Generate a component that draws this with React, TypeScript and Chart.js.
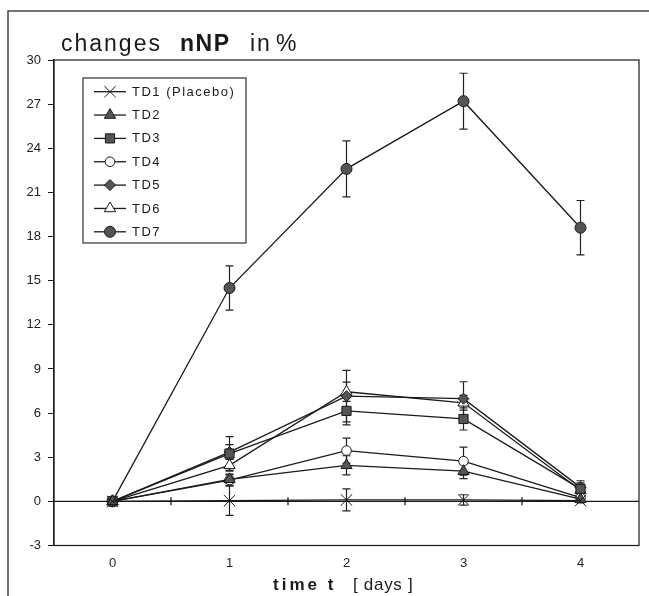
import React, { useEffect, useRef } from 'react';
import { Chart, registerables } from 'chart.js';

Chart.register(...registerables);

// ---------- data ----------
const days = [0, 1, 2, 3, 4];
const xTickValues = [0, 1, 2, 3, 4];
const yTickValues = [-3, 0, 3, 6, 9, 12, 15, 18, 21, 24, 27, 30];
const zeroLineTicks = [0.5, 1.5, 2.5, 3.5];
const seriesNames = ['TD1 (Placebo)', 'TD2', 'TD3', 'TD4', 'TD5', 'TD6', 'TD7'];

const td1 = [0, 0.05, 0.1, 0.1, 0.05];
const td1Err = [0, 1.0, 0.75, 0.35, 0.15];
const td2 = [0, 1.5, 2.45, 2.05, 0.15];
const td2Err = [0, 0.3, 0.65, 0.5, 0.15];
const td3 = [0, 3.25, 6.15, 5.6, 0.85];
const td3Err = [0, 1.15, 0.95, 0.75, 0.55];
const td4 = [0, 1.45, 3.45, 2.73, 0.25];
const td4Err = [0, 0.4, 0.85, 0.95, 0.2];
const td5 = [0, 3.35, 7.15, 6.98, 0.95];
const td5Err = [0, 0.5, 1.75, 1.15, 0.3];
const td6 = [0, 2.45, 7.45, 6.7, 0.75];
const td6Err = [0, 0.4, 0.65, 0.5, 0.2];
const td7 = [0, 14.5, 22.6, 27.2, 18.6];
const td7Err = [0, 1.5, 1.9, 1.9, 1.85];

const seriesValues = [td1, td2, td3, td4, td5, td6, td7];
const seriesErrors = [td1Err, td2Err, td3Err, td4Err, td5Err, td6Err, td7Err];

// ---------- styles ----------
const markerStyles = ['crossRot', 'triangle', 'rect', 'circle', 'rectRot', 'triangle', 'circle'];
const markerRadii = [8, 6.5, 6.5, 4.8, 5.5, 6.5, 5.5];
const markerFills = ['#111', '#555', '#555', '#fff', '#555', '#fff', '#555'];
const INK = '#1a1a1a';
const FONT = '"Liberation Sans", Arial, Helvetica, sans-serif';

function drawMarker(ctx: CanvasRenderingContext2D, style: string, x: number, y: number, r: number, fill: string) {
  ctx.beginPath();
  if (style === 'circle') {
    ctx.arc(x, y, r, 0, Math.PI * 2);
  } else if (style === 'rect') {
    const s = Math.SQRT1_2 * r;
    ctx.rect(x - s, y - s, 2 * s, 2 * s);
  } else if (style === 'rectRot') {
    ctx.moveTo(x - r, y);
    ctx.lineTo(x, y - r);
    ctx.lineTo(x + r, y);
    ctx.lineTo(x, y + r);
    ctx.closePath();
  } else if (style === 'triangle') {
    let rad = 0;
    ctx.moveTo(x + Math.sin(rad) * r, y - Math.cos(rad) * r);
    rad += (2 * Math.PI) / 3;
    ctx.lineTo(x + Math.sin(rad) * r, y - Math.cos(rad) * r);
    rad += (2 * Math.PI) / 3;
    ctx.lineTo(x + Math.sin(rad) * r, y - Math.cos(rad) * r);
    ctx.closePath();
  } else if (style === 'crossRot') {
    const o = Math.cos(Math.PI / 4) * r;
    ctx.moveTo(x - o, y - o);
    ctx.lineTo(x + o, y + o);
    ctx.moveTo(x + o, y - o);
    ctx.lineTo(x - o, y + o);
    ctx.stroke();
    return;
  }
  ctx.fillStyle = fill;
  ctx.fill();
  ctx.stroke();
}

const framePlugin = {
  id: 'frameAndErrors',
  beforeDatasetsDraw(chart: any) {
    const { ctx, chartArea: a, scales } = chart;
    const x = scales.x;
    const y = scales.y;
    ctx.save();
    ctx.strokeStyle = INK;
    ctx.lineWidth = 1.2;
    ctx.strokeRect(a.left, a.top, a.right - a.left, a.bottom - a.top);
    // zero line with half-day ticks
    const y0 = y.getPixelForValue(0);
    ctx.lineWidth = 1.3;
    ctx.beginPath();
    ctx.moveTo(a.left, y0);
    ctx.lineTo(a.right, y0);
    zeroLineTicks.forEach((t) => {
      const px = x.getPixelForValue(t);
      ctx.moveTo(px, y0 - 4);
      ctx.lineTo(px, y0 + 4);
    });
    ctx.stroke();
    // error bars
    ctx.lineWidth = 1.2;
    ctx.strokeStyle = '#222';
    seriesValues.forEach((vals, i) => {
      const errs = seriesErrors[i];
      vals.forEach((v, j) => {
        const e = errs[j];
        if (!e) return;
        const px = x.getPixelForValue(days[j]);
        const top = y.getPixelForValue(v + e);
        const bot = y.getPixelForValue(v - e);
        ctx.beginPath();
        ctx.moveTo(px, top);
        ctx.lineTo(px, bot);
        ctx.moveTo(px - 4, top);
        ctx.lineTo(px + 4, top);
        ctx.moveTo(px - 4, bot);
        ctx.lineTo(px + 4, bot);
        ctx.stroke();
      });
    });
    ctx.restore();
  },
};

const decorPlugin = {
  id: 'decor',
  afterDraw(chart: any) {
    const { ctx } = chart;
    ctx.save();
    // outer figure border
    ctx.strokeStyle = '#444';
    ctx.lineWidth = 1.5;
    ctx.beginPath();
    ctx.moveTo(8, 600);
    ctx.lineTo(8, 11);
    ctx.lineTo(649, 11);
    ctx.stroke();

    // title
    ctx.fillStyle = INK;
    ctx.textBaseline = 'alphabetic';
    ctx.textAlign = 'left';
    (ctx as any).letterSpacing = '2px';
    ctx.font = `23px ${FONT}`;
    ctx.fillText('changes', 61, 51);
    (ctx as any).letterSpacing = '1.5px';
    ctx.font = `bold 23px ${FONT}`;
    ctx.fillText('nNP', 180, 51);
    (ctx as any).letterSpacing = '2px';
    ctx.font = `23px ${FONT}`;
    ctx.fillText('in', 250, 51);
    ctx.fillText('%', 276, 51);

    // x axis title
    (ctx as any).letterSpacing = '3px';
    ctx.font = `bold 17px ${FONT}`;
    ctx.fillText('time t', 273, 590);
    (ctx as any).letterSpacing = '0.7px';
    ctx.font = `17px ${FONT}`;
    ctx.fillText('[ days ]', 353, 590);

    // legend
    (ctx as any).letterSpacing = '1.5px';
    ctx.strokeStyle = '#333';
    ctx.lineWidth = 1.2;
    ctx.fillStyle = '#fff';
    ctx.fillRect(83, 78, 163, 165);
    ctx.strokeRect(83, 78, 163, 165);
    seriesNames.forEach((name, i) => {
      const cy = 91.7 + i * 23.35;
      ctx.strokeStyle = INK;
      ctx.lineWidth = 1.3;
      ctx.beginPath();
      ctx.moveTo(94, cy);
      ctx.lineTo(126, cy);
      ctx.stroke();
      ctx.lineWidth = 1;
      drawMarker(ctx, markerStyles[i], 110, cy, markerRadii[i], markerFills[i]);
      ctx.fillStyle = INK;
      ctx.font = `13px ${FONT}`;
      ctx.textBaseline = 'middle';
      ctx.fillText(name, 132, cy + 0.5);
    });
    ctx.restore();
  },
};

export default function App() {
  const ref = useRef<HTMLCanvasElement>(null);
  useEffect(() => {
    const canvas = ref.current;
    if (!canvas) return;
    const datasets = seriesValues.map((vals, i) => ({
      label: seriesNames[i],
      data: days.map((d, j) => ({ x: d, y: vals[j] })),
      showLine: true,
      borderColor: INK,
      borderWidth: 1.3,
      pointStyle: markerStyles[i] as any,
      pointRadius: markerRadii[i],
      pointHoverRadius: markerRadii[i],
      pointBackgroundColor: markerFills[i],
      pointBorderColor: INK,
      pointBorderWidth: 1,
      fill: false,
      tension: 0,
    }));
    const chart = new Chart(canvas, {
      type: 'scatter',
      data: { datasets },
      options: {
        animation: false,
        responsive: false,
        devicePixelRatio: 1,
        layout: { padding: { top: 60, right: 10, left: 0, bottom: 0 } },
        plugins: { legend: { display: false }, tooltip: { enabled: false }, title: { display: false } },
        scales: {
          x: {
            type: 'linear',
            min: -0.5,
            max: 4.5,
            afterBuildTicks: (s: any) => {
              s.ticks = xTickValues.map((v) => ({ value: v }));
            },
            afterFit: (s: any) => {
              s.height = 50.5;
            },
            grid: { display: false, drawTicks: false },
            border: { display: false },
            ticks: {
              color: '#222',
              font: { family: FONT, size: 13 },
              padding: 10,
              maxRotation: 0,
              callback: (v: any) => String(v),
            },
          },
          y: {
            type: 'linear',
            min: -3,
            max: 30,
            afterBuildTicks: (s: any) => {
              s.ticks = yTickValues.map((v) => ({ value: v }));
            },
            afterFit: (s: any) => {
              s.width = 54;
            },
            grid: { display: true, drawOnChartArea: false, drawTicks: true, tickLength: 6, color: INK, lineWidth: 1 },
            border: { display: true, color: INK, width: 1.2 },
            ticks: {
              color: '#222',
              font: { family: FONT, size: 13 },
              padding: 7,
              callback: (v: any) => String(v),
            },
          },
        },
      },
      plugins: [framePlugin, decorPlugin],
    });
    return () => chart.destroy();
  }, []);
  return (
    <div style={{ position: 'absolute', left: 0, top: 0, width: 649, height: 596, background: '#fff' }}>
      <canvas ref={ref} width={649} height={596} style={{ display: 'block', width: 649, height: 596 }} />
    </div>
  );
}
